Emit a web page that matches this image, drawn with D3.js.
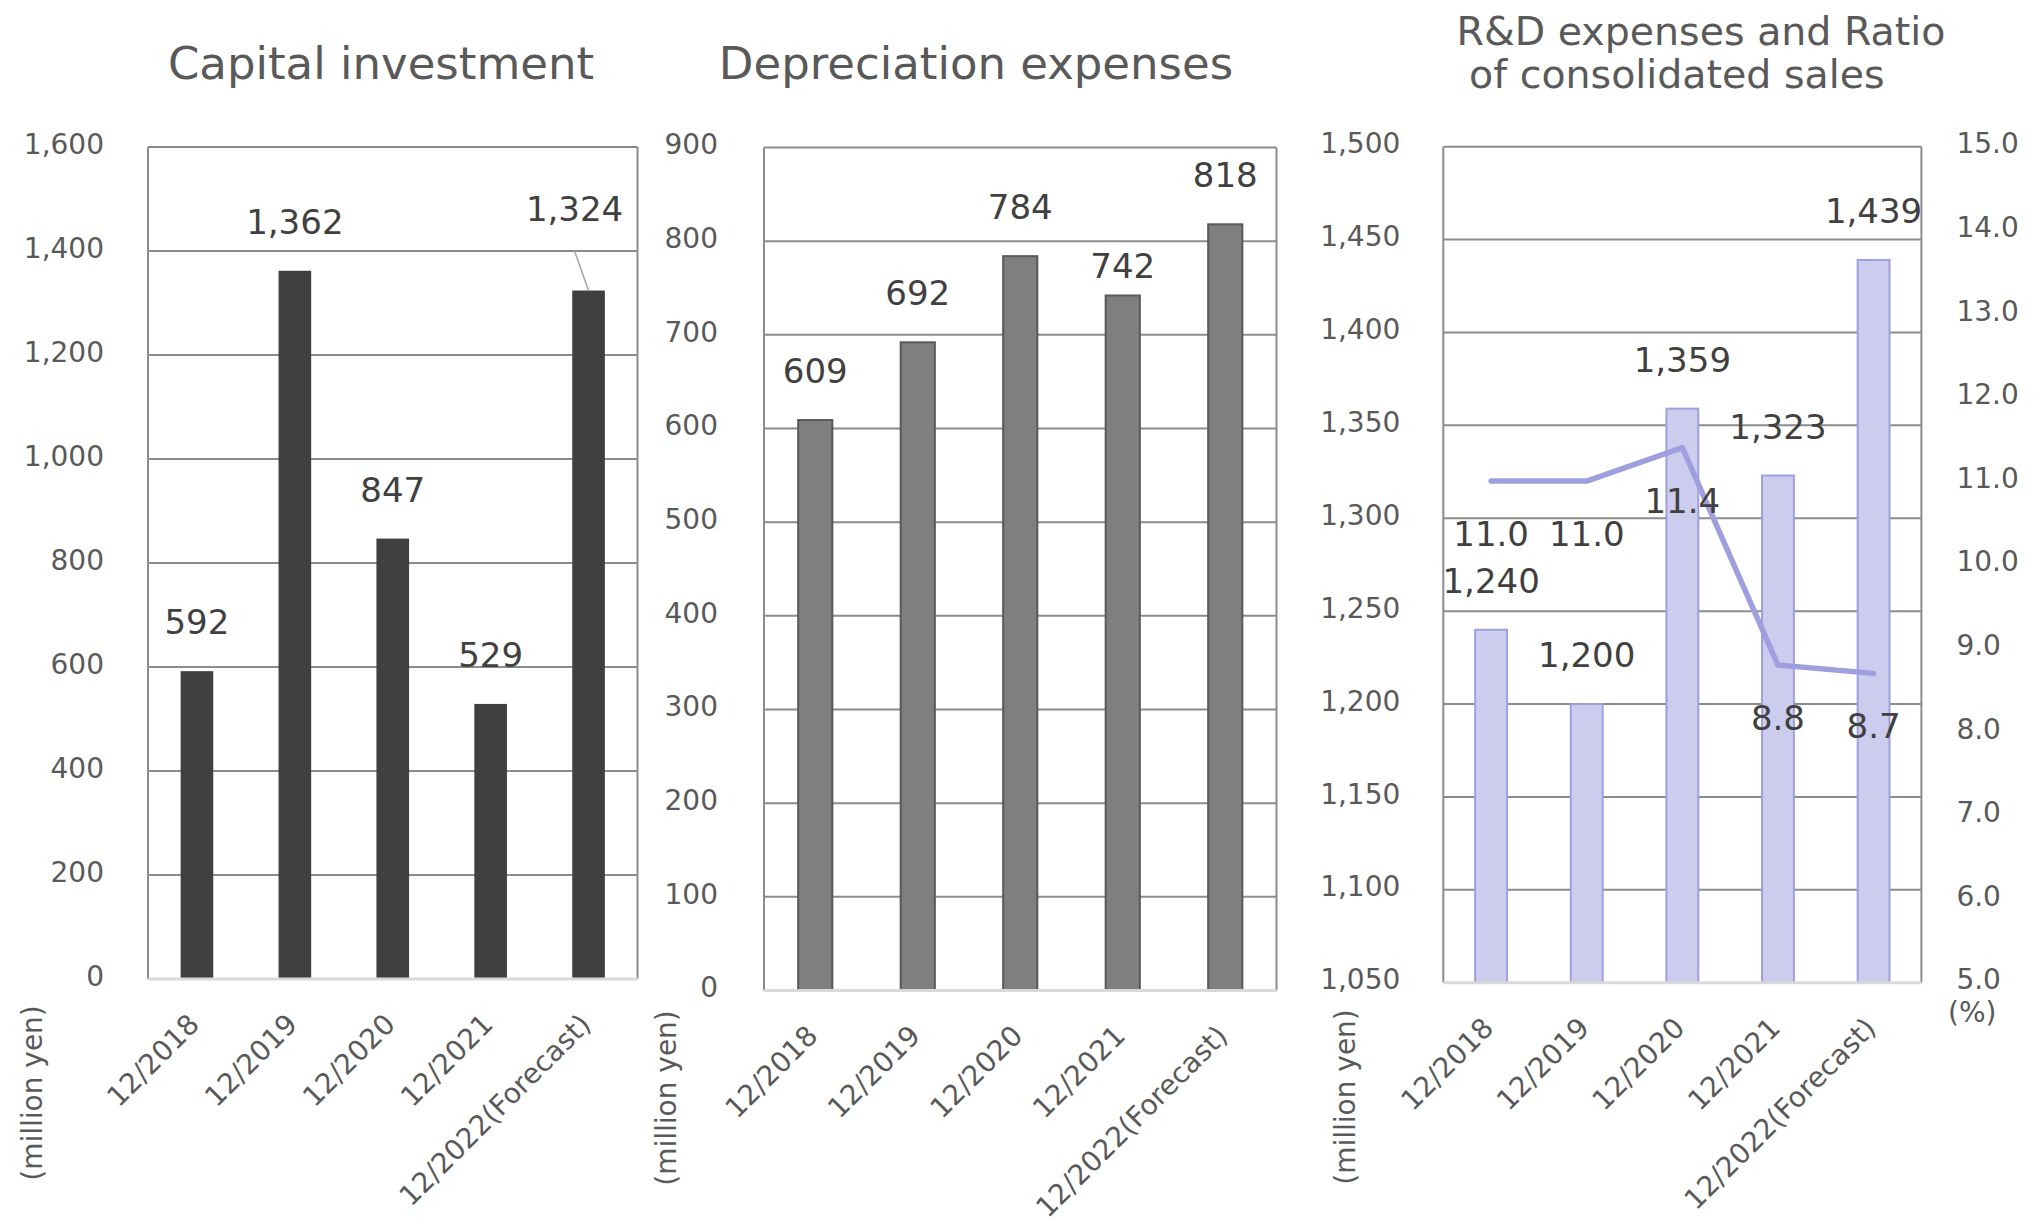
<!DOCTYPE html>
<html>
<head>
<meta charset="utf-8">
<script src="https://cdn.jsdelivr.net/npm/d3@7"></script>
<style>
  html, body { margin: 0; padding: 0; background: #ffffff; }
  svg { display: block; font-family: "DejaVu Sans", Verdana, sans-serif; }
</style>
</head>
<body>
<svg id="chart" width="2044" height="1231"></svg>
<script>
// Fiscal periods shared by all three panels
const categories = ["12/2018", "12/2019", "12/2020", "12/2021", "12/2022(Forecast)"];

// Capital investment (million yen)
const capitalInvestment = [592, 1362, 847, 529, 1324];
const capitalTicks = [0, 200, 400, 600, 800, 1000, 1200, 1400, 1600];

// Depreciation expenses (million yen)
const depreciation = [609, 692, 784, 742, 818];
const depreciationTicks = [0, 100, 200, 300, 400, 500, 600, 700, 800, 900];

// R&D expenses (million yen) and ratio to consolidated sales (%)
const rdExpenses = [1240, 1200, 1359, 1323, 1439];
const rdRatio = [11.0, 11.0, 11.4, 8.8, 8.7];
const rdTicks = [1050, 1100, 1150, 1200, 1250, 1300, 1350, 1400, 1450, 1500];
const ratioTicks = [5, 6, 7, 8, 9, 10, 11, 12, 13, 14, 15];

const svg = d3.select("#chart");
const GRID = "#8c8c8c";
const AXIS_TEXT = "#595959";
const LABEL_TEXT = "#404040";
const fmtInt = d3.format(",");
const fmtPct = d3.format(".1f");

function drawPanel(cfg) {
  const g = svg.append("g");
  const x = d3.scaleBand()
    .domain(categories)
    .range([cfg.left, cfg.right])
    .paddingInner(2 / 3)
    .paddingOuter(1 / 3);
  const y = d3.scaleLinear()
    .domain([cfg.ticks[0], cfg.ticks[cfg.ticks.length - 1]])
    .range([cfg.bottom, cfg.top]);
  const cx = d => x(d) + x.bandwidth() / 2;

  // horizontal gridlines (baseline drawn separately in light grey)
  g.append("g").selectAll("line")
    .data(cfg.ticks.slice(1))
    .join("line")
    .attr("x1", cfg.left).attr("x2", cfg.right)
    .attr("y1", d => y(d)).attr("y2", d => y(d))
    .attr("stroke", GRID).attr("stroke-width", 2);

  // plot frame sides
  g.append("line")
    .attr("x1", cfg.left).attr("x2", cfg.left)
    .attr("y1", cfg.top).attr("y2", cfg.bottom)
    .attr("stroke", GRID).attr("stroke-width", 2);
  g.append("line")
    .attr("x1", cfg.right).attr("x2", cfg.right)
    .attr("y1", cfg.top).attr("y2", cfg.bottom)
    .attr("stroke", GRID).attr("stroke-width", 2);

  // left value axis
  const yAxis = d3.axisLeft(y)
    .tickValues(cfg.ticks)
    .tickFormat(fmtInt)
    .tickSize(0)
    .tickPadding(cfg.tickPad);
  const ya = g.append("g")
    .attr("transform", `translate(${cfg.left},0)`)
    .call(yAxis);
  ya.select(".domain").remove();
  ya.selectAll("text")
    .attr("font-family", "DejaVu Sans")
    .attr("font-size", 28)
    .attr("fill", AXIS_TEXT)
    .attr("dy", "0.22em");

  // bars
  g.append("g").selectAll("rect")
    .data(cfg.values)
    .join("rect")
    .attr("x", (d, i) => x(categories[i]))
    .attr("width", x.bandwidth())
    .attr("y", d => y(d))
    .attr("height", d => y(cfg.ticks[0]) - y(d))
    .attr("fill", cfg.fill)
    .attr("stroke", cfg.stroke || "none")
    .attr("stroke-width", cfg.stroke ? 2 : 0);

  // baseline
  g.append("line")
    .attr("x1", cfg.left).attr("x2", cfg.right)
    .attr("y1", cfg.bottom).attr("y2", cfg.bottom)
    .attr("stroke", "#d9d9d9").attr("stroke-width", 3);

  // category labels, rotated 45 degrees
  g.append("g").selectAll("text")
    .data(categories)
    .join("text")
    .attr("transform", d => `translate(${cx(d) + 4},${cfg.bottom + 47}) rotate(-45)`)
    .attr("text-anchor", "end")
    .attr("font-size", 28)
    .attr("fill", AXIS_TEXT)
    .text(d => d);

  // unit label
  g.append("text")
    .attr("transform", `translate(${cfg.unitX},${cfg.unitY}) rotate(-90)`)
    .attr("text-anchor", "middle")
    .attr("font-size", 28)
    .attr("fill", AXIS_TEXT)
    .text("(million yen)");

  // title
  const title = g.append("text")
    .attr("font-size", cfg.titleSize)
    .attr("fill", AXIS_TEXT)
    .attr("text-anchor", cfg.titleAnchor || "middle")
    .style("white-space", "pre");
  cfg.titleLines.forEach((line, i) => {
    title.append("tspan")
      .attr("x", cfg.titleX)
      .attr("y", cfg.titleY[i])
      .text(line);
  });

  // value labels above the bars
  const shift = cfg.labelShift || [];
  g.append("g").selectAll("text")
    .data(cfg.values)
    .join("text")
    .attr("x", (d, i) => cx(categories[i]) + ((shift[i] || [0, 0])[0]))
    .attr("y", (d, i) => y(d) - 37 + ((shift[i] || [0, 0])[1]))
    .attr("text-anchor", "middle")
    .attr("font-size", 34)
    .attr("fill", LABEL_TEXT)
    .text(d => fmtInt(d));

  return { g, x, y, cx };
}

// Panel 1: capital investment
const p1 = drawPanel({
  left: 148, right: 637.5, top: 147, bottom: 979,
  ticks: capitalTicks, values: capitalInvestment,
  fill: "#404040", tickPad: 44,
  unitX: 42, unitY: 1093,
  titleLines: ["Capital investment"], titleX: 381, titleY: [79], titleSize: 45,
  labelShift: [null, null, null, null, [-14, -33]]
});
// leader line from the forecast label to its bar
p1.g.append("line")
  .attr("x1", p1.cx(categories[4]) - 14)
  .attr("y1", p1.y(1400))
  .attr("x2", p1.cx(categories[4]))
  .attr("y2", p1.y(capitalInvestment[4]))
  .attr("stroke", "#a6a6a6").attr("stroke-width", 1.5);

// Panel 2: depreciation expenses
drawPanel({
  left: 764, right: 1276.5, top: 147.5, bottom: 990.5,
  ticks: depreciationTicks, values: depreciation,
  fill: "#7f7f7f", stroke: "#595959", tickPad: 46,
  unitX: 676, unitY: 1098,
  titleLines: ["Depreciation expenses"], titleX: 976, titleY: [79], titleSize: 45,
  labelShift: [null, null, null, [0, 20], null]
});

// Panel 3: R&D expenses with ratio line on a secondary axis
const p3 = drawPanel({
  left: 1443.3, right: 1921.4, top: 146.7, bottom: 982.7,
  ticks: rdTicks, values: rdExpenses,
  fill: "#ccccee", stroke: "#9f9fdf", tickPad: 43,
  unitX: 1355, unitY: 1097,
  titleLines: ["R&D expenses and Ratio", " of consolidated sales"],
  titleX: 1456.5, titleY: [45, 88], titleSize: 39.5, titleAnchor: "start"
});

const yR = d3.scaleLinear()
  .domain([ratioTicks[0], ratioTicks[ratioTicks.length - 1]])
  .range([982.7, 146.7]);

const rAxis = p3.g.append("g")
  .attr("transform", "translate(1921.4,0)")
  .call(d3.axisRight(yR).tickValues(ratioTicks).tickFormat(fmtPct).tickSize(0).tickPadding(35));
rAxis.select(".domain").remove();
rAxis.selectAll("text")
  .attr("font-family", "DejaVu Sans")
  .attr("font-size", 28)
  .attr("fill", AXIS_TEXT)
  .attr("dy", "0.22em");

p3.g.append("text")
  .attr("x", 1948).attr("y", 1022)
  .attr("font-size", 28)
  .attr("fill", AXIS_TEXT)
  .text("(%)");

const ratioLine = d3.line()
  .x((d, i) => p3.cx(categories[i]))
  .y(d => yR(d));

p3.g.append("path")
  .datum(rdRatio)
  .attr("d", ratioLine)
  .attr("fill", "none")
  .attr("stroke", "#9f9fdf")
  .attr("stroke-width", 5.5)
  .attr("stroke-linejoin", "round")
  .attr("stroke-linecap", "round");

p3.g.append("g").selectAll("text")
  .data(rdRatio)
  .join("text")
  .attr("x", (d, i) => p3.cx(categories[i]))
  .attr("y", d => yR(d) + 65)
  .attr("text-anchor", "middle")
  .attr("font-size", 34)
  .attr("fill", LABEL_TEXT)
  .text(d => fmtPct(d));
</script>
</body>
</html>
